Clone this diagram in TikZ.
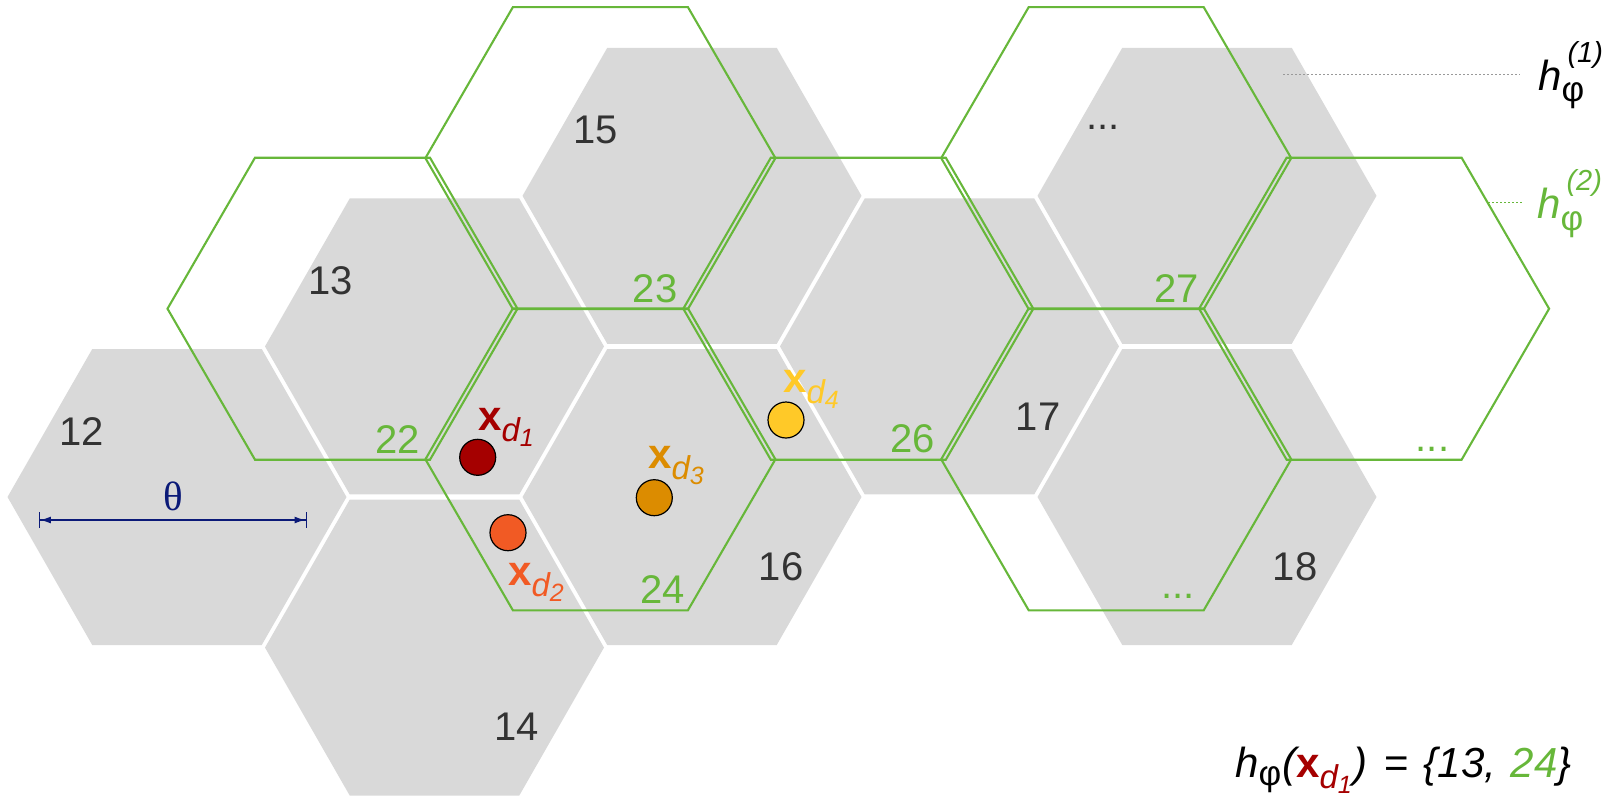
\documentclass[tikz,border=0pt]{standalone}
\usepackage{fontspec}
\setmainfont{Liberation Sans}
\newfontfamily\thetafont{Liberation Serif}
\usetikzlibrary{arrows.meta}
\definecolor{hexgrey}{HTML}{D9D9D9}
\definecolor{hgreen}{HTML}{67B73A}
\definecolor{labgrey}{HTML}{333333}
\definecolor{cdone}{HTML}{A50000}
\definecolor{cdtwo}{HTML}{F15A24}
\definecolor{cdthree}{HTML}{DC8C00}
\definecolor{cdfour}{HTML}{FFC928}
\definecolor{navyc}{HTML}{0B1A78}
\definecolor{dotgrey}{HTML}{999999}
\newcommand{\hexpath}[5]{\path[#1] ({#2+#4},#3) -- ({#2+#4/2},{#3-#5}) -- ({#2-#4/2},{#3-#5}) -- ({#2-#4},#3) -- ({#2-#4/2},{#3+#5}) -- ({#2+#4/2},{#3+#5}) -- cycle;}
\newcommand{\xsub}[1]{{\fontsize{42}{42}\selectfont\bfseries x}\raisebox{-11.5pt}{\fontsize{33}{33}\selectfont\itshape d\raisebox{-4.5pt}{\fontsize{25}{25}\selectfont #1}}}
\begin{document}
\begin{tikzpicture}[x=1pt,y=-1pt,
  greyhex/.style={fill=hexgrey},
  greenhex/.style={draw=hgreen,line width=2.1pt,line join=miter},
  num/.style={font=\fontsize{40}{40}\selectfont,text=labgrey,inner sep=0pt,anchor=base},
  gnum/.style={num,text=hgreen},
  datapt/.style={circle,draw=black,line width=1.2pt,minimum size=36pt,inner sep=0pt},
  ptlab/.style={inner sep=0pt,anchor=base west}]
\useasboundingbox (0,0) rectangle (1618,796);
% grey cells h^(1)
\foreach \cx/\cy in {177/497, 434.5/346.4, 434.5/647.6, 692/195.8, 692/497, 949.5/346.4, 1207/195.8, 1207/497}
  {\hexpath{greyhex}{\cx}{\cy}{169.5}{148}}
% green cells h^(2)
\foreach \cx/\cy in {342.5/308.7, 600.4/158.1, 600.4/459.3, 858.3/308.7, 1116.2/158.1, 1116.2/459.3, 1374.1/308.7}
  {\hexpath{greenhex}{\cx}{\cy}{175}{151}}
% grey labels
\node[num] (n12) at (81.7,445) {12};
\node[num] (n13) at (331,294) {13};
\node[num] (n14) at (516.5,740) {14};
\node[num] (n15) at (596,143) {15};
\node[num] (n16) at (781,580) {16};
\node[num] (n17) at (1038,430) {17};
\node[num] (n18) at (1295,580) {18};
\node[num] (ndots1) at (1103,129) {...};
% green labels
\node[gnum] (n22) at (398,453) {22};
\node[gnum] (n23) at (655,302) {23};
\node[gnum] (n24) at (662.5,603) {24};
\node[gnum] (n26) at (912.5,452) {26};
\node[gnum] (n27) at (1176.5,302) {27};
\node[gnum] (ndots2) at (1178,598) {...};
\node[gnum] (ndots3) at (1432.5,451) {...};
% theta
\node[inner sep=0pt,anchor=base,text=navyc,font=\fontsize{41}{41}\selectfont\thetafont] (theta) at (173,510) {θ};
\coordinate (thl) at (38.7,520);
\coordinate (thr) at (306.7,520);
\draw[navyc,line width=1.5pt,{Bar[width=16pt,line width=1.2pt]Latex[length=11pt,width=7pt]}-{Latex[length=11pt,width=7pt]Bar[width=16pt,line width=1.2pt]}] (thl) -- (thr);
% data points
\node[datapt,fill=cdone] (d1) at (477.7,457.3) {};
\node[datapt,fill=cdtwo] (d2) at (508,532.7) {};
\node[datapt,fill=cdthree] (d3) at (654.3,497.7) {};
\node[datapt,fill=cdfour] (d4) at (786,420) {};
\node[ptlab,text=cdone] (l1) at (478,430) {\xsub{1}};
\node[ptlab,text=cdtwo] (l2) at (508,585) {\xsub{2}};
\node[ptlab,text=cdthree] (l3) at (648,468) {\xsub{3}};
\node[ptlab,text=cdfour] (l4) at (783,392) {\xsub{4}};
% legend
\node[ptlab,text=black] (hone) at (1538,90) {\fontsize{42}{42}\selectfont{\itshape h}\rlap{\raisebox{-11pt}{\fontsize{35}{35}\selectfont φ}}\kern6pt\raisebox{28pt}{\fontsize{29}{29}\selectfont\itshape (1)}};
\node[ptlab,text=hgreen] (htwo) at (1537,218) {\fontsize{42}{42}\selectfont{\itshape h}\rlap{\raisebox{-12pt}{\fontsize{35}{35}\selectfont φ}}\kern6pt\raisebox{28pt}{\fontsize{29}{29}\selectfont\itshape (2)}};
\coordinate (doa) at (1283,74.5);
\coordinate (dob) at (1520,74.5);
\draw[dotgrey,line width=1.3pt,dash pattern=on 2pt off 2pt] (doa) -- (dob);
\coordinate (dta) at (1488,202.7);
\coordinate (dtb) at (1523,202.7);
\draw[hgreen,line width=1.3pt,dash pattern=on 2pt off 2pt] (dta) -- (dtb);
% formula
\node[ptlab,text=black] (formula) at (1235,777) {\fontsize{42}{42}\selectfont{\itshape h}\raisebox{-8pt}{\fontsize{35}{35}\selectfont φ}\kern1pt{\itshape (}\textcolor{cdone}{\xsub{1}}\kern2pt{\itshape )}\kern5pt{} = \kern3pt{\itshape \{13,\kern3pt{} \textcolor{hgreen}{24}\}}};
\end{tikzpicture}
\end{document}
